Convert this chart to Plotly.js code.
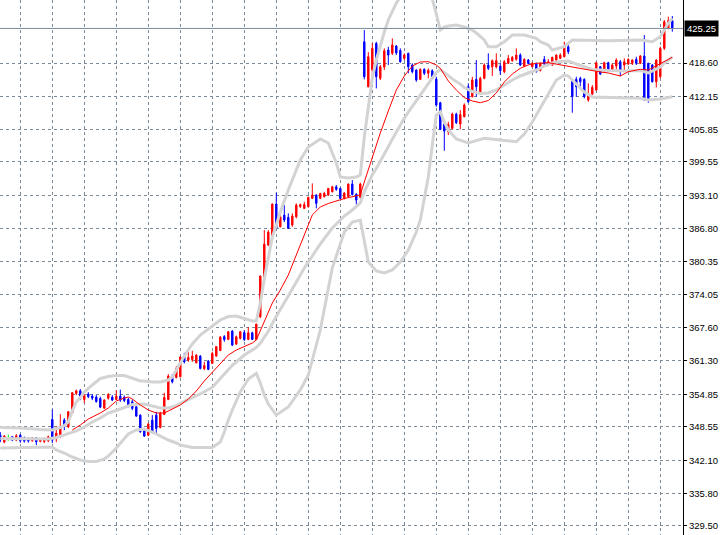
<!DOCTYPE html>
<html>
<head>
<meta charset="utf-8">
<script src="https://cdn.plot.ly/plotly-3.0.1.min.js"></script>
<style>html,body{margin:0;padding:0;background:#fff;}#chart{width:725px;height:535px;}</style>
</head>
<body>
<div id="chart"></div>
<script>
// ---- candle data (bar index = position in arrays) ----
const openP = [346.98,345.63,346.35,346.66,346.02,346.98,346.46,346.35,345.89,346.46,345.77,345.77,345.89,350.00,346.31,346.79,349.87,348.58,351.28,355.01,
355.51,353.82,354.87,354.49,354.30,354.01,352.18,354.10,354.30,353.85,354.49,354.30,353.85,353.39,352.43,350.83,347.81,346.98,349.87,350.83,
348.46,350.97,353.85,358.34,358.09,358.21,362.06,361.42,361.52,360.90,362.19,359.78,361.23,360.78,362.19,363.25,365.94,365.40,367.00,364.50,
365.60,366.71,365.40,366.68,365.40,369.76,377.20,383.56,385.48,391.45,387.08,389.33,388.89,387.41,389.01,390.97,390.62,390.93,392.55,393.18,
392.55,392.86,393.18,393.82,394.78,394.47,392.55,392.86,395.30,393.37,392.74,422.69,414.03,417.24,422.38,415.65,417.82,421.10,420.46,421.86,
421.00,419.50,420.46,418.21,417.24,415.45,417.38,416.61,417.11,415.51,410.95,406.85,405.37,406.02,408.77,406.85,408.26,414.03,412.11,415.45,
412.76,415.65,418.21,417.88,417.88,418.01,416.92,418.53,419.04,419.30,420.13,418.01,419.17,417.88,418.53,417.19,419.30,418.21,418.21,419.17,
419.50,419.81,421.73,415.32,415.45,415.65,415.45,411.47,412.62,413.39,417.88,417.11,418.65,417.24,418.01,418.84,418.21,418.40,418.53,419.30,
418.53,419.94,418.53,418.21,414.99,415.96,421.42,425.27,426.74];
const highP = [347.56,346.98,347.12,346.79,347.17,347.17,346.69,346.50,346.60,346.60,346.31,346.50,346.89,351.89,348.71,351.02,350.25,351.60,355.26,355.74,
355.84,355.07,355.26,354.87,354.68,354.39,353.91,355.07,354.68,355.64,355.74,354.59,354.16,353.82,352.56,350.97,348.04,349.35,350.83,351.47,
351.47,355.13,358.72,358.72,360.26,362.19,362.83,363.02,363.21,362.57,362.38,361.09,361.42,363.02,364.11,366.04,366.23,367.00,367.19,366.14,
367.00,367.19,367.77,366.87,368.41,377.73,386.44,386.44,391.58,393.63,389.33,391.26,389.66,389.66,391.58,391.55,391.89,392.86,395.43,393.37,
393.57,393.82,394.53,394.97,395.11,394.59,393.76,395.43,396.07,393.51,395.55,424.94,420.71,422.38,422.69,418.21,421.42,421.73,423.35,422.06,
421.42,420.46,420.58,418.53,417.38,417.57,417.57,417.57,417.38,415.96,411.14,407.29,407.29,409.03,409.03,409.54,410.83,414.68,415.96,419.17,
415.96,418.53,420.46,419.30,420.46,418.53,419.17,420.13,419.94,421.42,420.46,419.50,419.36,418.78,418.69,418.69,419.94,419.36,419.81,420.27,
420.46,422.69,422.25,415.40,415.96,415.96,415.65,414.68,414.36,418.84,418.01,418.84,418.84,418.53,419.50,419.17,419.50,419.50,419.30,419.81,
420.13,423.98,418.65,418.40,419.30,421.73,426.87,427.51,427.64];
const lowP = [345.63,345.44,345.89,345.83,345.83,345.50,345.54,345.54,345.73,345.06,345.63,345.44,345.63,345.44,345.63,346.40,347.94,348.33,351.02,354.68,
353.72,353.14,354.10,353.72,353.24,352.18,351.99,353.82,353.53,353.72,353.39,353.33,352.31,351.79,350.51,347.43,346.66,346.79,347.31,347.31,
348.27,350.83,353.72,356.93,357.90,358.09,360.78,361.09,361.09,360.78,359.63,359.49,359.49,360.70,362.06,363.21,364.94,365.27,364.11,364.31,
365.40,365.08,365.27,365.27,365.27,369.50,376.82,383.36,385.29,386.58,386.96,387.98,386.64,387.08,388.70,390.68,390.49,390.81,392.41,390.62,
392.41,392.74,393.05,393.70,394.01,392.41,392.32,392.74,393.12,391.39,392.55,415.45,413.91,415.96,413.72,415.32,417.24,418.21,420.13,420.13,
418.65,419.17,416.61,416.61,414.99,415.32,416.28,415.65,415.45,410.18,405.69,401.71,404.73,405.83,406.85,405.83,408.14,410.95,411.99,412.11,
412.43,415.45,417.24,416.09,417.57,416.28,416.61,418.40,418.84,419.04,418.01,417.88,418.34,417.76,416.76,416.96,417.88,418.01,418.01,418.98,
419.36,419.69,420.32,409.03,412.11,414.03,411.80,411.14,412.43,413.26,416.28,416.92,417.11,417.11,417.24,416.09,416.92,418.21,418.21,418.21,
418.40,411.40,410.95,414.84,413.91,415.65,421.10,425.08,424.62];
const closeP = [346.02,346.79,346.35,346.02,346.85,345.89,345.83,345.83,346.46,345.69,346.15,346.35,346.66,346.02,347.37,348.52,348.62,351.47,355.13,355.51,
354.05,354.59,354.39,354.10,353.43,352.37,353.72,354.78,353.72,354.49,353.72,353.63,352.56,352.12,350.64,347.62,346.79,349.10,347.62,348.27,
351.16,354.24,358.34,357.24,359.82,362.00,361.09,361.94,362.19,362.38,359.82,360.36,359.63,362.71,364.02,365.85,365.37,366.87,364.31,365.91,
366.87,365.37,366.68,365.40,368.35,377.59,383.75,386.06,391.45,386.77,389.01,388.37,386.77,389.14,391.26,391.35,391.35,392.74,393.18,391.58,
393.51,393.51,394.47,394.78,394.28,392.55,393.57,395.30,393.28,392.22,395.30,415.96,419.81,421.42,415.96,417.88,420.96,420.13,422.06,420.52,
418.84,420.13,417.88,416.92,415.32,417.38,416.61,417.19,415.65,410.51,405.83,405.50,406.75,408.77,407.10,408.68,410.51,411.14,415.32,414.03,
415.65,418.21,417.57,419.04,419.04,417.11,418.84,419.50,419.69,420.13,418.21,419.30,418.53,418.53,416.92,418.53,418.40,418.84,419.69,420.13,
420.13,421.73,420.77,412.11,414.03,414.99,412.11,412.76,413.91,418.65,416.47,418.65,417.24,418.21,419.17,417.11,418.84,419.30,419.17,418.53,
419.94,411.47,411.47,414.99,419.17,421.42,426.54,426.74,425.25];

// ---- Bollinger bands and moving average (bar index, price) ----
const upperK = [0,5,10,13,14,15,16,17,18,19,20,21,23,25,27,29,31,33,35,36,38,40,42,43,44,45,46,47,48,50,53,55,57,59,61,63,64,65,66,67,68,69,70,72,75,77,80,82,84,85,87,89,90,91,92,93,94,95,96,97,98,99,100,101,103,104,106,108,109,110,111,112,114,116,118,119,121,122,124,126,128,131,134,135,137,138,141,143,152,160,163,165,167,168];
const upperV = [348.45,348.35,348.06,347.97,348.26,348.45,348.83,349.51,351.68,353.36,354.22,355.28,356.63,357.88,358.26,358.46,358.46,357.98,357.40,357.40,357.21,357.21,357.59,358.17,359.52,361.05,362.21,363.36,364.52,366.25,367.98,369.14,369.81,369.91,369.43,368.95,368.95,372.41,377.03,381.07,385.11,387.42,389.92,394.16,399.93,402.43,403.97,403.20,399.35,396.66,396.47,396.66,397.04,404.36,410.32,415.71,419.18,422.06,424.57,426.88,428.61,430.15,431.30,432.26,432.65,432.46,431.69,430.92,428.03,424.95,425.53,425.72,425.91,425.53,424.95,424.37,423.03,421.74,421.74,422.70,423.99,423.99,423.35,422.70,422.06,421.10,421.74,423.03,422.89,423.03,422.70,423.66,426.24,427.20];

const midK = [0,6,12,14,17,19,21,23,25,27,30,33,36,38,40,42,44,45,48,50,53,56,58,61,64,65,66,67,68,69,70,72,75,76,78,80,83,86,88,90,91,92,93,94,95,96,97,98,99,100,101,102,103,104,105,106,107,108,109,110,111,112,113,114,115,116,117,118,120,122,124,126,128,130,132,134,136,138,140,142,144,146,148,152,156,160,161,162,163,164,165,166,167,168];
const midV = [346.33,346.24,346.24,346.52,347.20,347.78,348.55,349.51,350.28,351.24,352.01,352.88,352.97,352.59,352.20,352.20,352.63,353.11,354.13,354.90,356.19,358.67,360.42,362.40,363.86,364.65,365.79,366.98,368.45,369.68,371.14,373.76,377.86,379.15,381.46,383.77,386.84,389.15,390.31,391.66,393.81,395.47,397.08,398.32,399.64,401.13,402.49,403.94,405.38,406.65,407.98,409.15,410.25,411.31,412.54,413.69,414.79,415.91,416.81,417.35,416.83,416.18,415.54,415.10,414.54,413.90,413.46,413.12,412.73,412.83,413.40,414.37,415.33,416.10,416.68,417.25,418.02,418.60,418.89,418.99,418.41,417.83,417.35,417.16,417.06,417.14,416.87,416.68,417.06,417.45,417.83,418.60,419.18,419.76];

const lowerK = [0,6,12,13,14,16,18,20,22,24,26,27,29,31,32,34,36,38,40,42,44,45,48,53,55,56,57,58,60,62,64,65,66,67,69,72,75,77,80,83,86,88,90,91,92,94,96,98,100,102,104,105,106,107,108,109,110,111,112,114,117,121,125,129,131,133,135,137,139,141,142,144,146,148,155,160,162,165,168];
const lowerV = [344.50,344.60,344.75,344.69,344.12,343.54,342.77,342.19,341.91,341.91,342.39,342.96,344.50,346.24,347.20,347.97,348.16,347.58,346.81,346.04,345.47,345.08,344.60,344.60,345.66,347.58,349.89,351.82,355.28,357.78,358.86,357.01,354.70,352.97,350.85,352.39,355.67,358.55,367.21,379.15,386.07,388.00,388.38,384.53,380.30,378.57,378.18,378.76,380.30,382.61,386.07,388.38,392.23,396.66,402.82,408.59,409.17,407.24,405.71,403.97,403.20,404.11,403.78,403.45,404.94,407.24,409.94,412.63,415.33,416.29,416.10,414.56,413.02,412.06,411.96,411.81,411.48,411.67,412.11];

const maK = [18,20,22,25,27,29,31,32,33,35,37,39,41,43,45,47,49,51,53,55,57,59,61,63,64,66,68,70,72,74,76,78,80,82,86,90,91,93,95,97,99,101,103,105,107,109,110,112,114,116,118,120,122,124,126,128,130,132,134,137,140,143,146,150,152,155,157,160,162,164,166,168];
const maV = [347.97,348.93,350.08,351.24,352.20,353.55,354.13,354.32,353.93,352.78,351.82,351.24,351.24,352.01,352.78,353.93,355.47,357.40,359.13,360.86,362.40,363.36,364.00,364.71,365.29,368.75,372.41,374.91,377.80,381.65,385.50,389.35,390.89,391.56,392.52,393.20,395.70,400.51,405.13,409.36,413.40,416.10,418.02,418.79,418.85,418.22,417.58,415.14,413.40,411.96,411.29,410.96,411.38,412.83,414.94,416.48,417.58,418.22,418.54,418.66,418.22,417.83,417.39,416.87,416.68,416.10,416.93,417.39,417.25,418.12,418.85,419.70];

// ---- price scale labels ----
const priceTicks = [329.50,335.80,342.10,348.55,354.85,361.30,367.60,374.05,380.35,386.80,393.10,399.55,405.85,412.15,418.60];
const priceText = ['329.50','335.80','342.10','348.55','354.85','361.30','367.60','374.05','380.35','386.80','393.10','399.55','405.85','412.15','418.60'];
const topCutLabel = '431.30';
const lastPrice = 425.25;
const lastPriceText = '425.25';

// ---- build traces ----
const xs = openP.map((_, i) => i);
const isDoji = openP.map((o, i) => o === closeP[i]);
const pick = (arr, want) => arr.map((v, i) => (isDoji[i] === want ? v : null));

const RED = '#ff0000', BLUE = '#0000ff', GREEN = '#00ff00', BAND = '#d3d3d3';
const lineTrace = (k, v, color, width) => ({
  type: 'scatter', mode: 'lines', x: k, y: v,
  line: {color: color, width: width}, hoverinfo: 'skip'
});

const traces = [
  lineTrace(upperK, upperV, BAND, 3),
  lineTrace(midK, midV, BAND, 3),
  lineTrace(lowerK, lowerV, BAND, 3),
  lineTrace(maK, maV, RED, 1),
  {
    type: 'candlestick', x: xs,
    open: pick(openP, false), high: pick(highP, false), low: pick(lowP, false), close: pick(closeP, false),
    increasing: {line: {color: RED, width: 1}, fillcolor: RED},
    decreasing: {line: {color: BLUE, width: 1}, fillcolor: BLUE},
    whiskerwidth: 0, hoverinfo: 'skip'
  },
  {
    type: 'candlestick', x: xs,
    open: pick(openP, true), high: pick(highP, true), low: pick(lowP, true), close: pick(closeP, true),
    increasing: {line: {color: GREEN, width: 1}, fillcolor: GREEN},
    decreasing: {line: {color: GREEN, width: 1}, fillcolor: GREEN},
    whiskerwidth: 0, hoverinfo: 'skip'
  }
];

const nBars = openP.length;
const gridK = [];
for (let k = 5; k < nBars; k += 8) gridK.push(k);

const GRID = '#7b8a99';
const FONT = {family: 'Liberation Sans, Arial, sans-serif', size: 9.5, color: '#000'};

const layout = {
  width: 725, height: 535,
  margin: {l: 0, r: 42, t: 0, b: 0, pad: 0},
  paper_bgcolor: '#ffffff', plot_bgcolor: '#ffffff',
  showlegend: false,
  boxgap: 0.5,
  xaxis: {
    range: [-0.075, 170.675], tickvals: gridK, showticklabels: false, ticks: '',
    showgrid: true, gridcolor: GRID, griddash: '3px,3px', gridwidth: 1,
    zeroline: false, showline: false, rangeslider: {visible: false}, fixedrange: true
  },
  yaxis: {
    side: 'right', range: [327.76, 430.725],
    tickvals: priceTicks, ticktext: priceText,
    showgrid: true, gridcolor: GRID, griddash: '3px,3px', gridwidth: 1,
    zeroline: false, showline: true, linecolor: '#000', linewidth: 1,
    ticks: 'outside', ticklen: 3, tickcolor: '#000', tickwidth: 1,
    tickfont: FONT, fixedrange: true
  },
  shapes: [{
    type: 'line', xref: 'paper', x0: 0, x1: 1, yref: 'y', y0: lastPrice, y1: lastPrice,
    line: {color: GRID, width: 1}
  }],
  annotations: [
    {xref: 'paper', x: 1, xanchor: 'left', xshift: 1, yref: 'y', y: lastPrice, yanchor: 'middle',
     text: lastPriceText, showarrow: false, bgcolor: '#000', borderpad: 2,
     font: {family: FONT.family, size: 9.5, color: '#fff'}},
    {xref: 'paper', x: 1, xanchor: 'left', xshift: 3, yref: 'paper', y: 1 + 3/535, yanchor: 'middle',
     text: topCutLabel, showarrow: false, font: FONT}
  ]
};

Plotly.newPlot('chart', traces, layout, {staticPlot: true, displayModeBar: false});
</script>
</body>
</html>
